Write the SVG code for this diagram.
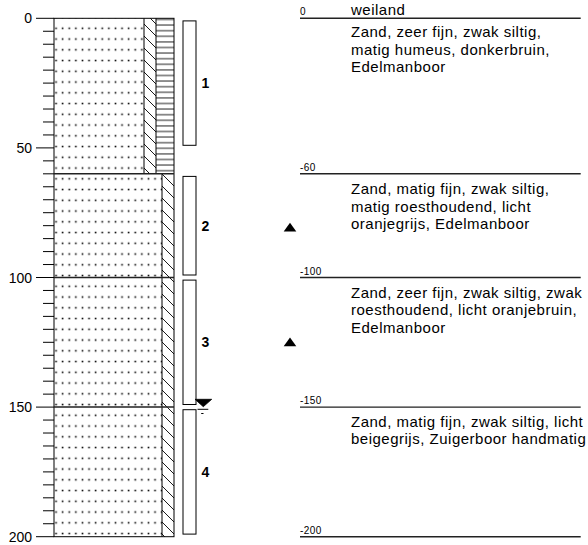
<svg xmlns="http://www.w3.org/2000/svg" width="588" height="545" viewBox="0 0 588 545">
<style>
.ln{stroke:#000;stroke-width:1;fill:none}
.bd{stroke:#222;stroke-width:1.5;fill:none}
.rl{stroke:#222;stroke-width:1.4;fill:none}
.lbl{font-family:"Liberation Sans",Arial,sans-serif;font-size:14px;fill:#000}
.desc{font-family:"Liberation Sans",Arial,sans-serif;font-size:15px;letter-spacing:0.5px;fill:#000}
.dep{font-family:"Liberation Sans",Arial,sans-serif;font-size:10px;letter-spacing:0.4px;fill:#000}
.num{font-family:"Liberation Sans",Arial,sans-serif;font-size:14px;font-weight:bold;fill:#000}
.bar{fill:#fff;stroke:#000;stroke-width:1}
</style>
<defs>
<pattern id="sand" patternUnits="userSpaceOnUse" x="52.7" y="22.9" width="6.6" height="10.75">
<rect x="2.55" y="4.6" width="1.6" height="1.6" fill="#000"/>
</pattern>
<pattern id="hatch" patternUnits="userSpaceOnUse" x="0" y="0" width="12" height="12">
<path d="M0,0 L12,12 M-3,9 L3,15 M9,-3 L15,3" stroke="#000" stroke-width="0.9"/>
</pattern>
<pattern id="hlines" patternUnits="userSpaceOnUse" x="0" y="16.7" width="20" height="5.6">
<line x1="0" y1="2.8" x2="20" y2="2.8" stroke="#000" stroke-width="0.9"/>
</pattern>
</defs>
<rect width="588" height="545" fill="#fff"/>

<g id="scale">
<path class="ln" d="M43,31.26H54M43,44.22H54M43,57.18H54M43,70.14H54M43,83.1H54M43,96.06H54M43,109.02H54M43,121.98H54M43,134.94H54M43,160.86H54M43,173.82H54M43,186.78H54M43,199.74H54M43,212.7H54M43,225.66H54M43,238.62H54M43,251.58H54M43,264.54H54M43,290.46H54M43,303.42H54M43,316.38H54M43,329.34H54M43,342.3H54M43,355.26H54M43,368.22H54M43,381.18H54M43,394.14H54M43,420.06H54M43,433.02H54M43,445.98H54M43,458.94H54M43,471.9H54M43,484.86H54M43,497.82H54M43,510.78H54M43,523.74H54"/>
<path class="ln" d="M36,18.3H54M36,147.9H54M36,277.5H54M36,407.1H54M36,536.7H54"/>
<text class="lbl" x="32" y="23.3" text-anchor="end">0</text>
<text class="lbl" x="32" y="152.9" text-anchor="end">50</text>
<text class="lbl" x="32" y="282.5" text-anchor="end">100</text>
<text class="lbl" x="32" y="412.1" text-anchor="end">150</text>
<text class="lbl" x="32" y="541.7" text-anchor="end">200</text>
</g>

<g id="layer1">
<rect x="54" y="18.3" width="90" height="155.5" fill="url(#sand)"/>
<rect x="144" y="18.3" width="12" height="155.5" fill="url(#hatch)"/>
<rect x="156" y="18.3" width="18" height="155.5" fill="url(#hlines)"/>
<path class="ln" d="M144,18.3V173.8M156,18.3V173.8"/>
</g>
<g id="layer2">
<rect x="54" y="173.8" width="108" height="103.7" fill="url(#sand)"/>
<rect x="162" y="173.8" width="12" height="103.7" fill="url(#hatch)"/>
</g>
<g id="layer3">
<rect x="54" y="277.5" width="108" height="129.6" fill="url(#sand)"/>
<rect x="162" y="277.5" width="12" height="129.6" fill="url(#hatch)"/>
</g>
<g id="layer4">
<rect x="54" y="407.1" width="108" height="129.6" fill="url(#sand)"/>
<rect x="162" y="407.1" width="12" height="129.6" fill="url(#hatch)"/>
</g>
<g id="column-frame">
<path class="ln" d="M162,173.8V536.7"/>
<rect class="ln" x="54" y="18.3" width="120" height="518.4"/>
<path class="bd" d="M54,173.8H174M54,277.5H174M54,407.1H174"/>
</g>

<g id="sample1">
<rect class="bar" x="183" y="20.9" width="13" height="124.4"/>
<text class="num" x="201.5" y="88">1</text>
</g>
<g id="sample2">
<rect class="bar" x="183" y="176.4" width="13" height="98.6"/>
<text class="num" x="201.5" y="231">2</text>
</g>
<g id="sample3">
<rect class="bar" x="183" y="280.1" width="13" height="124.4"/>
<text class="num" x="201.5" y="347">3</text>
</g>
<g id="sample4">
<rect class="bar" x="183" y="409.7" width="13" height="124.4"/>
<text class="num" x="201.5" y="477">4</text>
</g>

<g id="groundwater">
<path d="M195,399.3H211.7L203.3,406.7Z" fill="#000" stroke="#000" stroke-width="0.8"/>
<path class="ln" d="M197.5,409.3H208.3M201.2,413.5H203.5"/>
</g>

<g id="markers">
<path d="M290,222.8L296.3,231.6H283.7Z" fill="#000"/>
<path d="M290,337.5L296.3,346.3H283.7Z" fill="#000"/>
</g>

<g id="connectors">
<path class="rl" d="M300,18.3H580.7M300,173.8H580.7M300,277.5H580.7M300,407.1H580.7M300,536.7H580.7"/>
</g>

<g id="desc1">
<text class="dep" x="300" y="15">0</text>
<text class="desc" x="351" y="14.5">weiland</text>
<text class="desc" x="351" y="37">Zand, zeer fijn, zwak siltig,</text>
<text class="desc" x="351" y="54.5">matig humeus, donkerbruin,</text>
<text class="desc" x="351" y="72">Edelmanboor</text>
</g>
<g id="desc2">
<text class="dep" x="300" y="171">-60</text>
<text class="desc" x="351" y="194">Zand, matig fijn, zwak siltig,</text>
<text class="desc" x="351" y="211.5">matig roesthoudend, licht</text>
<text class="desc" x="351" y="229">oranjegrijs, Edelmanboor</text>
</g>
<g id="desc3">
<text class="dep" x="300" y="274.5">-100</text>
<text class="desc" x="351" y="297.5">Zand, zeer fijn, zwak siltig, zwak</text>
<text class="desc" x="351" y="315">roesthoudend, licht oranjebruin,</text>
<text class="desc" x="351" y="332.5">Edelmanboor</text>
</g>
<g id="desc4">
<text class="dep" x="300" y="404.1">-150</text>
<text class="desc" x="351" y="426.5">Zand, matig fijn, zwak siltig, licht</text>
<text class="desc" x="351" y="444">beigegrijs, Zuigerboor handmatig</text>
</g>
<g id="desc5">
<text class="dep" x="300" y="533.7">-200</text>
</g>
</svg>
